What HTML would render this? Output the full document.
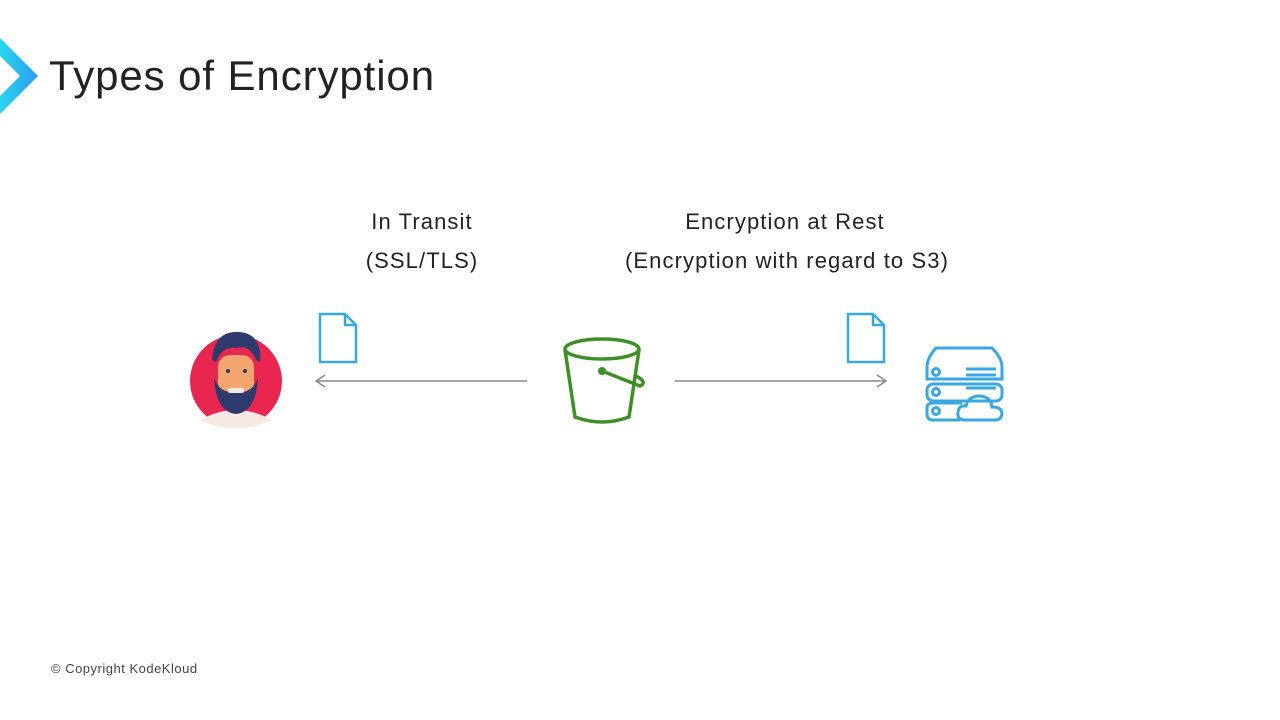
<!DOCTYPE html>
<html><head><meta charset="utf-8"><style>
body{margin:0;width:1280px;height:720px;background:#fff;position:relative;overflow:hidden;font-family:"Liberation Sans",sans-serif;color:#222}
.t{position:absolute;white-space:nowrap}
.l{font-size:22px;letter-spacing:1.1px;text-align:center}
</style></head><body>
<svg width="1280" height="720" style="position:absolute;left:0;top:0">
<defs><linearGradient id="g" x1="0" x2="1"><stop offset="0" stop-color="#2ad4f0"/><stop offset="1" stop-color="#2b9cf0"/></linearGradient></defs>
<polygon points="0,38 38,76 0,114 0,96 20,76 0,56" fill="url(#g)"/>
<circle cx="236" cy="381" r="46" fill="#e8264f"/>
<path d="M200 420 Q236 400 272 420 Q256 428 236 428 Q216 428 200 420Z" fill="#f6e9e4"/>
<rect x="218" y="355" width="36" height="40" rx="12" fill="#f3a76f"/>
<path d="M212 360 Q214 330 240 332 Q262 334 260 362 L256 360 Q250 344 236 348 Q222 346 216 362Z" fill="#2f3a6e"/>
<path d="M214 378 Q216 412 236 414 Q256 412 258 378 Q252 394 236 392 Q220 394 214 378Z" fill="#2f3a6e"/>
<rect x="228" y="388" width="16" height="5" rx="2" fill="#f6e9e4"/>
<circle cx="228" cy="371" r="2" fill="#2f3a6e"/><circle cx="245" cy="371" r="2" fill="#2f3a6e"/>
<g fill="none" stroke="#3aa8e0" stroke-width="2.5" stroke-linejoin="round">
<path d="M320 314 H345 L356 325 V362 H320 Z M345 314 V325 H356"/>
<path d="M848 314 H873 L884 325 V362 H848 Z M873 314 V325 H884"/>
</g>
<g stroke="#888" stroke-width="1.5" fill="none">
<line x1="316" y1="381" x2="527" y2="381"/><polyline points="325,375 316,381 325,387"/>
<line x1="675" y1="381" x2="886" y2="381"/><polyline points="877,375 886,381 877,387"/>
</g>
<g fill="none" stroke="#3f8f29" stroke-width="3.5">
<ellipse cx="602" cy="349" rx="37" ry="10"/>
<path d="M565 350 L575 417 Q602 427 629 417 L639 350"/>
<path d="M602 371 L640 386 Q648 382 636 376"/>
</g>
<circle cx="602" cy="371" r="4" fill="#3f8f29"/>
<g fill="none" stroke="#3aa8e0" stroke-width="3">
<path d="M927 367 Q927 358 936 348 H992 Q1002 358 1002 367 V379 H927 Z"/>
<rect x="927" y="384" width="75" height="17" rx="6"/>
<path d="M960 420 H933 Q927 420 927 414 V408 Q927 403 933 403 H962"/>
<circle cx="936" cy="372" r="3.5"/><circle cx="936" cy="392" r="3.5"/><circle cx="936" cy="411" r="3.5"/>
<line x1="966" y1="369" x2="996" y2="369"/><line x1="966" y1="375" x2="996" y2="375"/><line x1="966" y1="388" x2="996" y2="388"/>
<path d="M965 420 Q957 420 958 412 Q959 405 966 406 Q968 396 980 396 Q991 397 992 407 Q1002 407 1002 414 Q1001 420 995 420 Z"/>
</g>
</svg>
<div class="t" style="left:49px;top:52px;font-size:42px;letter-spacing:0.9px;color:#222">Types of Encryption</div>
<div class="t l" style="left:322px;width:200px;top:209px">In Transit</div>
<div class="t l" style="left:322px;width:200px;top:248px">(SSL/TLS)</div>
<div class="t l" style="left:585px;width:400px;top:209px">Encryption at Rest</div>
<div class="t l" style="left:587px;width:400px;top:248px">(Encryption with regard to S3)</div>
<div class="t" style="left:51px;top:661px;font-size:13px;letter-spacing:0.5px;color:#444">© Copyright KodeKloud</div>
</body></html>
